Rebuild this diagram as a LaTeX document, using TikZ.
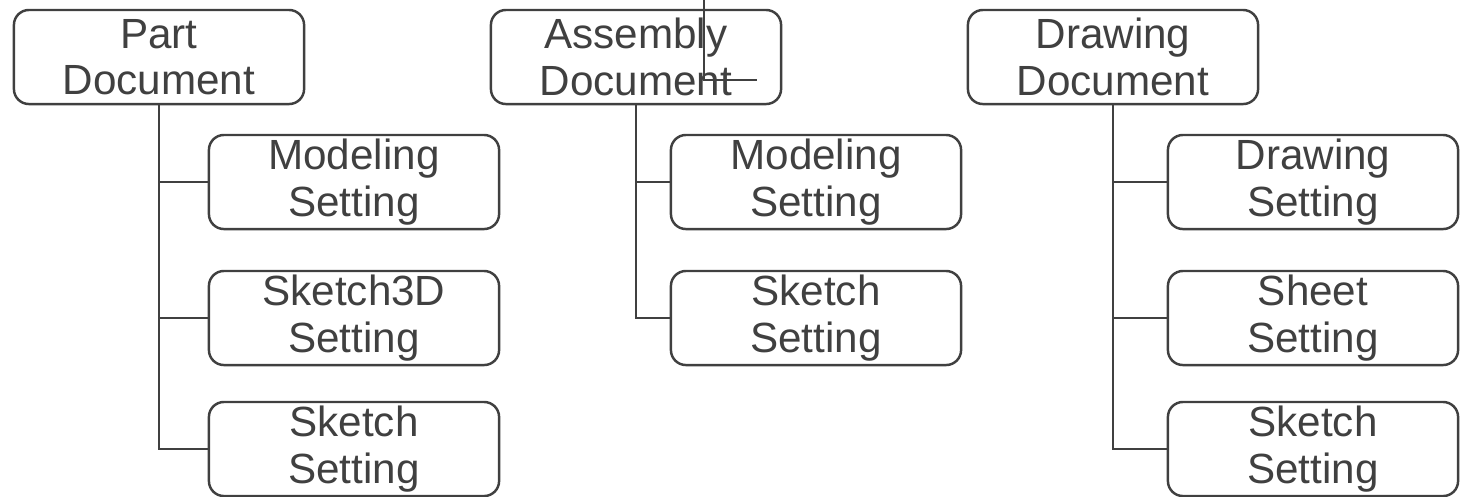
\documentclass[tikz,border=0pt]{standalone}
\usepackage{fontspec}
\setmainfont{Liberation Sans}
\usepackage{xcolor}
\definecolor{inkgray}{HTML}{404040}
\usetikzlibrary{positioning}

\tikzset{
	docbox/.style={draw=inkgray,line width=0.7pt,rounded corners=0.15cm,
		minimum width=2.9cm,minimum height=0.94cm,inner sep=0pt,
		align=center,text=inkgray,
		font=\fontsize{12}{13.2}\selectfont},
	tree/.style={draw=inkgray,line width=0.7pt}
}

\begin{document}
\begin{tikzpicture}[x=0.01cm,y=-0.01cm]
	\useasboundingbox (0,0) rectangle (1473,496);
	
	% top documents
	\node[docbox] (part) at (159,57) {Part\\Document};
	\node[docbox] (asm) at (636,57) {Assembly\\Document};
	\node[docbox] (drw) at (1113,57) {Drawing\\Document};
	
	% part settings
	\node[docbox] (pmod) at (354,182) {Modeling\\Setting};
	\node[docbox] (psk3) at (354,318) {Sketch3D\\Setting};
	\node[docbox] (psk) at (354,449) {Sketch\\Setting};
	
	% assembly settings
	\node[docbox] (amod) at (816,182) {Modeling\\Setting};
	\node[docbox] (ask) at (816,318) {Sketch\\Setting};
	
	% drawing settings
	\node[docbox] (ddrw) at (1313,182) {Drawing\\Setting};
	\node[docbox] (dsht) at (1313,318) {Sheet\\Setting};
	\node[docbox] (dsk) at (1313,449) {Sketch\\Setting};
	
	\foreach \c in {pmod,psk3,psk}
		\draw[tree] (part.south) |- (\c.west);
	\foreach \c in {amod,ask}
		\draw[tree] (asm.south) |- (\c.west);
	\foreach \c in {ddrw,dsht,dsk}
		\draw[tree] (drw.south) |- (\c.west);
	
	% stray mark over the assembly box
	\coordinate (mka) at (704,0);
	\coordinate (mkb) at (757,80);
	\draw[tree] (mka) |- (mkb);
\end{tikzpicture}
\end{document}
